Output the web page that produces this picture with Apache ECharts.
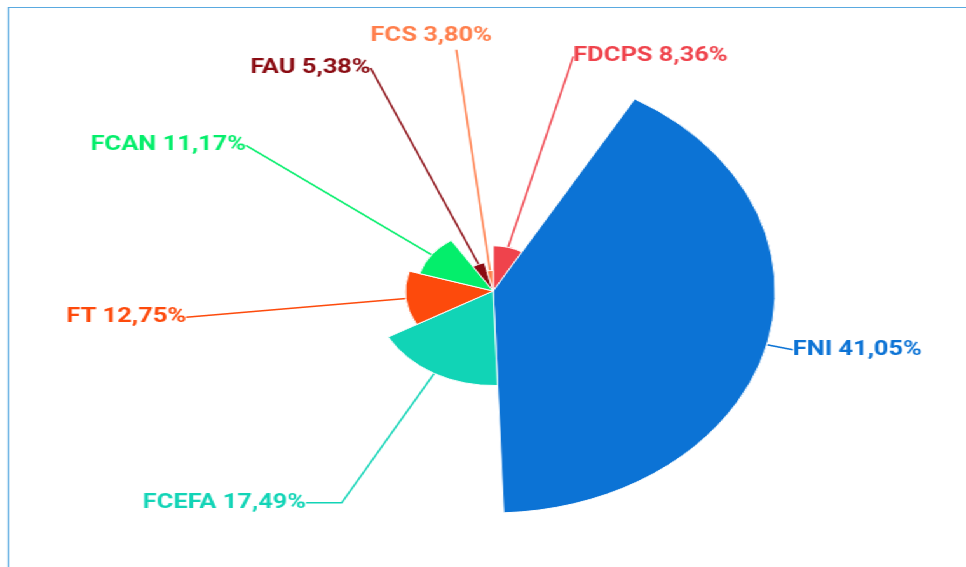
<!DOCTYPE html>
<html>
<head>
<meta charset="utf-8">
<script src="https://cdn.jsdelivr.net/npm/echarts@6/dist/echarts.min.js"></script>
<style>
  html, body { margin: 0; padding: 0; overflow: hidden; background: #fff; }
  /* the reference is a horizontally stretched screenshot, so the whole chart is scaled on x */
  #stage { position: absolute; left: 0; top: 0; width: 760px; height: 567px; transform: scaleX(1.271); transform-origin: 0 0; }
  #frame { position: absolute; left: 5.5px; top: 7px; width: 1000px; height: 1000px; border: 1.6px solid #5aaae0; }
  #graph { position: absolute; left: 0; top: 0; width: 760px; height: 567px; }
</style>
</head>
<body>
<div id="stage">
  <div id="frame"></div>
  <div id="graph"></div>
</div>
<script>
'use strict';

var categories = ['FDCPS', 'FNI', 'FCEFA', 'FT', 'FCAN', 'FAU', 'FCS'];
var shares = [8.36, 41.05, 17.49, 12.75, 11.17, 5.38, 3.80];
var palette = ['#ef434c', '#0c73d5', '#11d4b6', '#fd4a0c', '#04ee6b', '#8a0b12', '#ff7e4b'];

// FCS label is pushed up/right where the reference has it (it clashes with FAU)
var labelShift = {
  FCS: {dx: 28, dy: -14}
};

var chartDom = document.getElementById('graph');
var myChart = echarts.init(chartDom, null, {renderer: 'canvas'});

var option = {
  animation: false,
  series: [
    {
      type: 'pie',
      roseType: 'radius',
      center: [388, 291],
      radius: [0, 222],
      startAngle: 90,
      clockwise: true,
      avoidLabelOverlap: false,
      data: categories.map(function (name, i) {
        return {
          name: name,
          value: shares[i],
          itemStyle: {color: palette[i]},
          label: {color: palette[i]},
          labelLine: {
            length2: name === 'FCEFA' ? 28 : 0,
            lineStyle: {color: palette[i]}
          }
        };
      }),
      itemStyle: {
        borderColor: '#fff',
        borderWidth: 1
      },
      label: {
        show: true,
        position: 'outside',
        fontFamily: 'Roboto',
        fontWeight: 'bold',
        fontSize: 20,
        lineHeight: 14,
        padding: [0, 0, 32, 0],
        distanceToLabelLine: 0,
        formatter: function (p) {
          return p.name + ' ' + p.percent.toFixed(2).replace('.', ',') + '%';
        }
      },
      labelLine: {
        show: true,
        length: 21,
        smooth: false,
        lineStyle: {width: 1.5}
      },
      labelLayout: function (params) {
        var s = labelShift[categories[params.dataIndex]];
        return s ? {dx: s.dx, dy: s.dy} : {};
      },
      emphasis: {scale: false}
    }
  ]
};

myChart.setOption(option);
</script>
</body>
</html>
